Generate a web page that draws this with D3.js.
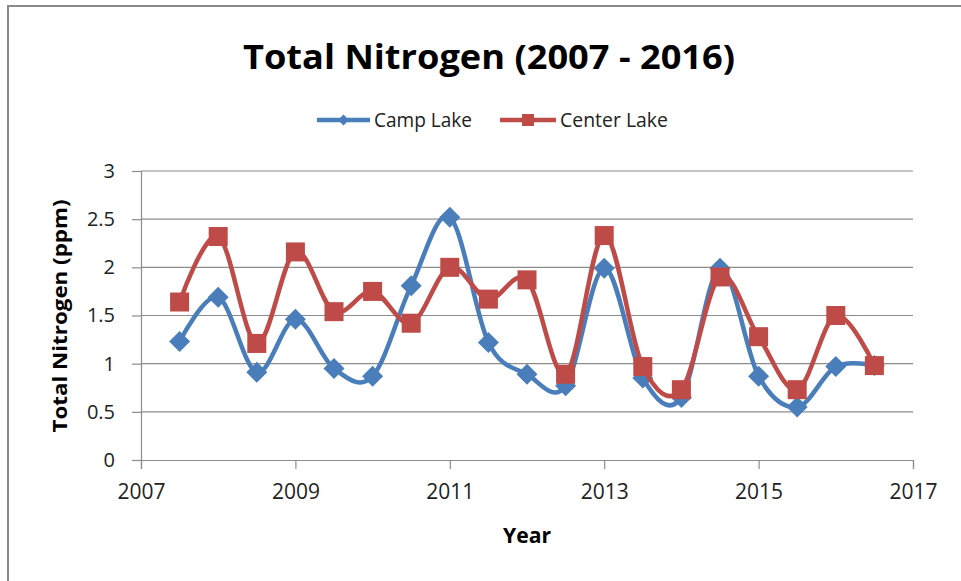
<!DOCTYPE html>
<html>
<head>
<meta charset="utf-8">
<script src="https://cdn.jsdelivr.net/npm/d3@7"></script>
<style>
  body { margin: 0; background: #fff; }
  svg { display: block; font-family: "Open Sans", "Noto Sans", sans-serif; }
</style>
</head>
<body>
<svg id="chart" width="961" height="581"></svg>
<script>
// data
var years = [2007.5, 2008, 2008.5, 2009, 2009.5, 2010, 2010.5, 2011, 2011.5, 2012,
             2012.5, 2013, 2013.5, 2014, 2014.5, 2015, 2015.5, 2016, 2016.5];
var campLake = [1.23, 1.69, 0.91, 1.46, 0.95, 0.87, 1.81, 2.52, 1.22, 0.89,
                0.77, 1.99, 0.85, 0.65, 1.99, 0.87, 0.55, 0.97, 0.98];
var centerLake = [1.64, 2.32, 1.21, 2.16, 1.54, 1.75, 1.42, 2.00, 1.67, 1.87,
                  0.89, 2.33, 0.97, 0.73, 1.90, 1.28, 0.73, 1.50, 0.98];
var xTicks = [2007, 2009, 2011, 2013, 2015, 2017];
var yTicks = [0, 0.5, 1, 1.5, 2, 2.5, 3];

var blue = '#4a7ebb', red = '#be4b48', grid = '#8c8c8c';

var svg = d3.select('#chart');

// outer chart frame (only top and left edges show in the picture)
svg.append('rect')
  .attr('x', 8).attr('y', 6)
  .attr('width', 1000).attr('height', 700)
  .attr('fill', 'none')
  .attr('stroke', '#8a8a8a')
  .attr('stroke-width', 2);

var x = d3.scaleLinear().domain([2007, 2017]).range([141, 913]);
var y = d3.scaleLinear().domain([0, 3]).range([460, 171]);

// gridlines
svg.append('g')
  .selectAll('line')
  .data(yTicks.slice(1))
  .enter()
  .append('line')
  .attr('x1', x(2007)).attr('x2', x(2017))
  .attr('y1', function(d) { return y(d); })
  .attr('y2', function(d) { return y(d); })
  .attr('stroke', grid)
  .attr('stroke-width', 1.2);

// axes
var yAxis = svg.append('g')
  .attr('transform', 'translate(' + x(2007) + ',0)')
  .call(d3.axisLeft(y).tickValues(yTicks).tickSize(9).tickPadding(17)
    .tickFormat(function(d) { return d; }));

var xAxis = svg.append('g')
  .attr('transform', 'translate(0,' + y(0) + ')')
  .call(d3.axisBottom(x).tickValues(xTicks).tickSize(9).tickPadding(15)
    .tickFormat(d3.format('d')));

[yAxis, xAxis].forEach(function(a) {
  a.select('.domain').attr('stroke', grid).attr('stroke-width', 1.2);
  a.selectAll('.tick line').attr('stroke', grid).attr('stroke-width', 1.2);
  a.selectAll('.tick text')
    .attr('fill', '#222')
    .attr('font-family', '"Open Sans", sans-serif')
    .attr('font-size', '20px');
});
xAxis.selectAll('.tick text').attr('font-size', '21px');

// lines
var line = d3.line()
  .x(function(d) { return x(d.year); })
  .y(function(d) { return y(d.value); })
  .curve(d3.curveCardinal.tension(0));

function pts(vals) {
  return years.map(function(yr, i) { return { year: yr, value: vals[i] }; });
}

var diamond = function(r) { return 'M0,' + (-r) + 'L' + r + ',0L0,' + r + 'L' + (-r) + ',0Z'; };

// camp lake
svg.append('path')
  .datum(pts(campLake))
  .attr('d', line)
  .attr('fill', 'none')
  .attr('stroke', blue)
  .attr('stroke-width', 4.5);

svg.append('g')
  .selectAll('path')
  .data(pts(campLake))
  .enter()
  .append('path')
  .attr('d', diamond(10.5))
  .attr('transform', function(d) { return 'translate(' + x(d.year) + ',' + y(d.value) + ')'; })
  .attr('fill', blue);

// center lake
svg.append('path')
  .datum(pts(centerLake))
  .attr('d', line)
  .attr('fill', 'none')
  .attr('stroke', red)
  .attr('stroke-width', 4.5);

svg.append('g')
  .selectAll('rect')
  .data(pts(centerLake))
  .enter()
  .append('rect')
  .attr('x', function(d) { return x(d.year) - 9.5; })
  .attr('y', function(d) { return y(d.value) - 9.5; })
  .attr('width', 19).attr('height', 19)
  .attr('fill', red);

// title
svg.append('text')
  .attr('x', 489).attr('y', 69)
  .attr('text-anchor', 'middle')
  .attr('font-size', '34px')
  .attr('font-weight', 'bold')
  .attr('textLength', 492)
  .attr('lengthAdjust', 'spacingAndGlyphs')
  .text('Total Nitrogen (2007 - 2016)');

// legend
var legend = [
  { name: 'Camp Lake', color: blue, x1: 317, x2: 370, tx: 374, tw: 98, mark: 'diamond' },
  { name: 'Center Lake', color: red, x1: 500, x2: 556, tx: 560, tw: 108, mark: 'square' }
];
var lg = svg.append('g').selectAll('g').data(legend).enter().append('g');
lg.append('line')
  .attr('x1', function(d) { return d.x1; })
  .attr('x2', function(d) { return d.x2; })
  .attr('y1', 120).attr('y2', 120)
  .attr('stroke', function(d) { return d.color; })
  .attr('stroke-width', 4.5);
lg.filter(function(d) { return d.mark === 'diamond'; })
  .append('path')
  .attr('d', diamond(5.5))
  .attr('transform', function(d) { return 'translate(' + (d.x1 + d.x2) / 2 + ',120)'; })
  .attr('fill', blue);
lg.filter(function(d) { return d.mark === 'square'; })
  .append('rect')
  .attr('x', function(d) { return (d.x1 + d.x2) / 2 - 6; })
  .attr('y', 114).attr('width', 12).attr('height', 12)
  .attr('fill', red);
lg.append('text')
  .attr('x', function(d) { return d.tx; })
  .attr('y', 127)
  .attr('font-size', '20px')
  .attr('fill', '#222')
  .attr('textLength', function(d) { return d.tw; })
  .attr('lengthAdjust', 'spacingAndGlyphs')
  .text(function(d) { return d.name; });

// axis titles
svg.append('text')
  .attr('transform', 'translate(67,316) rotate(-90)')
  .attr('text-anchor', 'middle')
  .attr('font-size', '20px')
  .attr('font-weight', 'bold')
  .attr('textLength', 233)
  .attr('lengthAdjust', 'spacingAndGlyphs')
  .text('Total Nitrogen (ppm)');

svg.append('text')
  .attr('x', 527).attr('y', 543)
  .attr('text-anchor', 'middle')
  .attr('font-size', '22px')
  .attr('font-weight', 'bold')
  .attr('textLength', 48)
  .attr('lengthAdjust', 'spacingAndGlyphs')
  .text('Year');
</script>
</body>
</html>
